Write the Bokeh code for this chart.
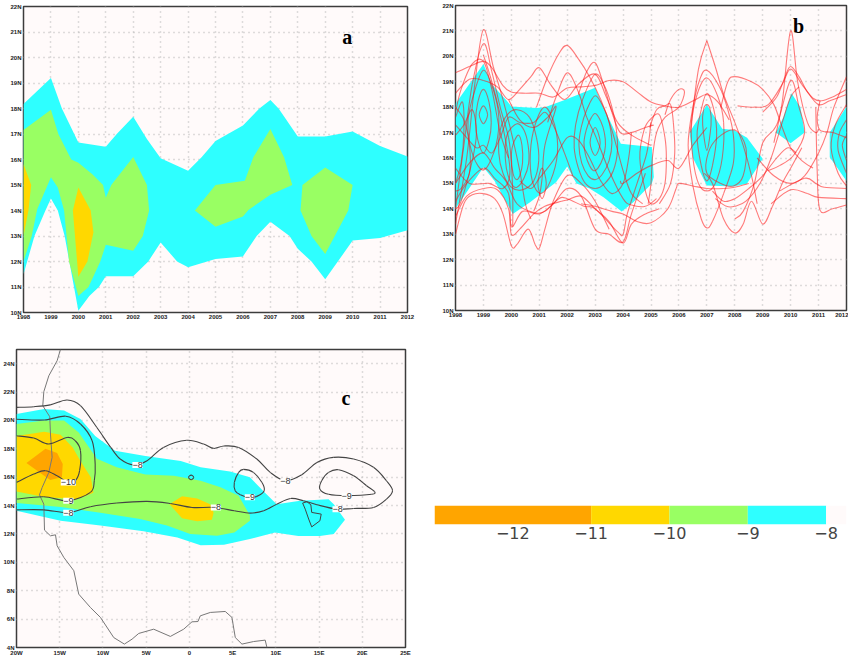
from bokeh.plotting import figure
from bokeh.models import Range1d, FixedTicker
from bokeh.layouts import row, column
from bokeh.embed import file_html
from bokeh.resources import INLINE
from bokeh.core.properties import value

CYAN = "#2EFFFF"
GREEN = "#99FF63"
YELLOW = "#FFD800"
ORANGE = "#FFA500"
SNOW = "#FFFAFA"

years = list(range(1998, 2013))
lat_ab = list(range(10, 23))
lon_c = [-20, -15, -10, -5, 0, 5, 10, 15, 20, 25]
lon_labels = ["20W", "15W", "10W", "5W", "0", "5E", "10E", "15E", "20E", "25E"]
lat_c = [4, 6, 8, 10, 12, 14, 16, 18, 20, 22, 24]

# panel a: shaded areas
a_cyan = [(1998,18.18),(1999,19.2),(1999.4,18),(2000,16.67),(2001,16.5),(2001.4,17),(2002,17.68),(2002.5,16.8),
          (2003,16.05),(2004,15.56),(2004.5,16.1),(2005,16.73),(2006,17.33),(2006.6,18),(2007,18.33),(2007.3,18),
          (2008,16.9),(2009,16.9),(2010,17.1),(2011,16.53),(2012,16.12),(2012,13.23),(2011,12.92),(2010,12.82),
          (2009,11.3),(2008.5,12),(2008,12.5),(2007.7,13),(2007,13.56),(2006.5,13),(2006,12.2),(2005,12.1),
          (2004,11.77),(2003.6,12),(2003,12.75),(2002.55,12),(2002,11.42),(2001,11.42),(2000.75,11),(2000.4,10.65),
          (2000,10.07),(1999.5,13),(1999.25,14),(1999,14.47),(1998.8,14),(1998.4,13),(1998,11.5)]
a_green1 = [(1998,17.16),(1999,17.95),(1999.27,17),(1999.74,16),(2000,15.87),(2000.5,15.43),(2000.9,15),(2001,14.5),
            (2001.2,15),(2002,16.1),(2002.5,15),(2002.58,14),(2002.35,13),(2002,12.42),(2001,12.66),(2000.8,12),
            (2000.37,11),(2000,10.65),(1999.66,12),(1999.48,14),(1999.25,14.9),(1999,15.3),(1998.5,14.05),
            (1998.3,13),(1998,12)]
a_green2 = [(2004.25,14),(2005,15),(2006.07,15.17),(2006.38,16.09),(2007,17.2),(2007.5,16.09),(2007.8,15),(2007,14.62),
            (2006.2,14.02),(2006,13.76),(2005,13.36)]
a_green3 = [(2008.17,15),(2009,15.69),(2010,15),(2009.84,14),(2009,12.29),(2008.5,13),(2008.1,14)]
a_yellow1 = [(1998,15.82),(1998.28,15),(1998.18,14),(1998,13)]
a_yellow2 = [(2000,14.9),(2000.45,14),(2000.55,13.15),(2000.33,12),(2000,11.4),(1999.8,14)]

# panel b: shaded areas
b_cyan1 = [(1998,18.13),(1999,19.7),(1999.3,18.9),(1999.83,18.26),(2000,18.03),(2000.9,17.97),(2001.2,18),(2001.86,18.26),
           (2002.4,18.5),(2003,18.76),(2003.3,18),(2003.92,16.56),(2005.03,16.43),(2005.1,15.25),(2005.03,15),
           (2004.37,14.26),(2003.95,13.9),(2003.3,14.46),(2002.8,14.8),(2002.33,15),(2002,15.67),(2001.6,15.05),
           (2000.67,14.26),(2000.05,13.8),(1999.4,15.1),(1999,15.64),(1998,14)]
b_cyan2 = [(2006.38,17),(2007,18.1),(2007.55,17.15),(2007.96,17.1),(2008.44,16.8),(2009,15.97),(2008.44,15),
           (2007.96,14.88),(2007,14.92),(2006.5,16)]
b_cyan3 = [(2009.47,17),(2009.74,17.6),(2010.03,18.55),(2010.35,18),(2010.5,17),(2010,16.58)]
b_cyan4 = [(2012,18.03),(2011.73,17.55),(2011.4,17),(2011.4,16.03),(2012,15.1)]

# panel b: red contours, traced by eye
tracks = [
    [(1998,19.35),(1998.5,19.6),(1999,19.8),(1999.3,19.55),(1999.7,18.85),(2000,18.6),(2000.5,18.55),(2001,18.55),(2001.5,18.4),(2002,18.75),(2002.5,18.8),(2003,18.85),(2003.5,19.05),(2004,19),(2004.5,18.6),(2005,18.2),(2005.5,18.05),(2006,18),(2006.6,18.3),(2007,18.5),(2007.4,18.2),(2007.8,17.5)],
    [(1998,18.55),(1998.5,19.1),(1999,19.05),(1999.5,18.8),(1999.9,18.3),(2000.3,18.7),(2000.7,19.2),(2001,19.55),(2001.4,18.9),(2001.9,18.3),(2002.4,18.9),(2003,19.3),(2003.4,18.4),(2003.8,17.4),(2004.3,16.9),(2005,16.5)],
    [(2000.9,18),(2001.3,19.2),(2001.7,20.1),(2002,20.43),(2002.4,19.9),(2002.8,19.2),(2003.2,18.3),(2003.6,17.1),(2004,15.5),(2004.3,14.6),(2004.7,14.2)],
    [(2002.4,18.5),(2002.7,19.4),(2003,19.75),(2003.3,18.9),(2003.6,17.8),(2003.9,17),(2004.3,17),(2004.8,17.2),(2005.1,17.3)],
    [(2001.3,17.4),(2001.6,18.4),(2002,19.35),(2002.4,18.6),(2002.7,17.6),(2003,16.9),(2003.5,15.5),(2004,14.4),(2004.3,14.15),(2004.8,14.1),(2005.2,14.4)],
    [(1998,14),(1998.3,16.5),(1998.6,18.9),(1999,20.5),(1999.3,19.4),(1999.6,18),(1999.9,16.8),(2000,15.8),(2000.05,14.5),(2000.05,13.3)],
    [(1998,13.4),(1998.4,16),(1998.7,19),(1999,21.05),(1999.35,19.6),(1999.7,18.3),(2000,17),(2000.3,15.5),(2000.5,14.2),(2000.7,13.6)],
    [(1998,13),(1998.3,14.2),(1998.6,14.55),(1999,14.6),(1999.4,14.4),(1999.7,13.8),(2000,12.55),(2000.2,12.6),(2000.6,13.2),(2000.85,12.6),(2001,12.45),(2001.2,13.2),(2001.5,14.3),(2002,15.3),(2002.5,15),(2003,14.3),(2003.5,13.2)],
    [(1998,13.7),(1998.4,14.5),(1999,14.8),(1999.5,14.75),(1999.9,14),(2000,13),(2000.3,13.2),(2000.8,13.8),(2001.2,14.1),(2001.8,14.3),(2002,14.35),(2002.5,14.5),(2003,14),(2003.5,13.5),(2004,12.65),(2004.3,13.4),(2004.8,13.8),(2005.3,14)],
    [(1998,14.3),(1998.4,15),(1999,15.6),(1999.4,15.2),(1999.9,14.6),(2000,13.3),(2000.4,13.9),(2001,13.8),(2001.5,14.2),(2002,14.8),(2002.5,14.5),(2003,13.2),(2003.5,13),(2004,12.7),(2004.3,13.8),(2004.8,15.4)],
    [(1998,15),(1998.5,15.8),(1999,16.2),(1999.4,15.6),(1999.8,15.1),(2000.2,14.2),(2000.8,13.85),(2001.2,13.9),(2001.7,14.4),(2002,14.4),(2002.6,14.1),(2003,14),(2003.8,13.1),(2004,13),(2004.15,13.8),(2004.5,15),(2004.85,16.2),(2005,17.4)],
    [(2002.5,14.2),(2003,14.1),(2003.6,13.9),(2004,13.8),(2004.5,13.5),(2005,13.45),(2005.6,14),(2005.9,14.8),(2006,15),(2006.5,14.9),(2007,14.8),(2007.6,14.8),(2008,14.85),(2008.5,15)],
    [(1998,17.3),(1998.4,16.8),(1998.75,16.4),(1999,16.5),(1999.3,16.2),(1999.6,16.8),(1999.9,17.6),(2000.3,17.4),(2000.8,17.4),(2001.2,17.8),(2001.5,17.3),(2001.9,16.2),(2002.2,15.3)],
    [(1999.9,18.3),(2000.3,17.5),(2000.8,17.2),(2001.3,17.6),(2001.6,18),(2001.2,16.5),(2001.1,15.2),(2001,14.5),(2000.8,13.9)],
    [(2000.3,15.1),(2000.7,14.8),(2001,15.2),(2001.5,15.9),(2002,16.8),(2002.4,16.7),(2002.8,16),(2003.2,15.1),(2003.6,14.6),(2004,15),(2004.2,16),(2004.3,17)],
    [(1999,18.7),(1999.2,18.2),(1999.28,17.4),(1999.2,16.7),(1999,16.2),(1998.8,16.7),(1998.72,17.4),(1998.8,18.2),(1999,18.7)],
    [(1999,19.45),(1999.35,18.7),(1999.55,17.6),(1999.45,16.5),(1999.1,15.6),(1998.8,15.7),(1998.5,16.6),(1998.45,17.5),(1998.65,18.5),(1999,19.45)],
    [(1999,18.05),(1999.15,17.7),(1999,17.35),(1998.85,17.7),(1999,18.05)],
    [(1999,20.05),(1999.3,19),(1999.7,17.2),(1999.95,15.5),(1999.7,14.8),(1999.2,15),(1998.5,15),(1998,15.6)],
    [(1998,18),(1998.3,17.5),(1998.5,16.5),(1998.5,15.4),(1998.2,14.8),(1998,14.7)],
    [(1998,17.8),(1998.2,18.7),(1998.6,19.7),(1999,19.8),(1999.3,18.7),(1999.6,17),(1999.9,16)],
    [(1998,17.6),(1998.25,18.2),(1998.3,17),(1998.2,15.8),(1998,15)],
    [(1998,16.9),(1998.3,17.3),(1998.6,17.9),(1998.75,17),(1998.6,15.9),(1998.2,14.3),(1998,14)],
    [(2000.2,17.35),(2000.45,17.1),(2000.6,16.5),(2000.62,15.8),(2000.45,15.2),(2000.2,14.85),(2000,15),(1999.82,15.6),(1999.78,16.4),(1999.88,17),(2000.2,17.35)],
    [(2000.25,16.9),(2000.38,16.5),(2000.4,15.8),(2000.3,15.3),(2000.18,15.15),(2000.06,15.4),(2000,16),(2000.05,16.5),(2000.25,16.9)],
    [(2000.2,17.9),(2000.65,17.6),(2000.9,16.8),(2000.98,15.9),(2000.8,15.1),(2000.4,14.75),(2000,14.85),(1999.7,15.4),(1999.55,16.2),(1999.6,17.1),(1999.85,17.7),(2000.2,17.9)],
    [(2001.2,18),(2001.55,17.3),(2001.65,16.2),(2001.4,15.1),(2001.05,14.6),(2000.75,15.1),(2000.68,16.2),(2000.85,17.3),(2001.2,18)],
    [(2001.1,15.6),(2001.25,15),(2001.1,14.4),(2000.95,15),(2001.1,15.6)],
    [(2003,17.2),(2003.12,16.95),(2003.18,16.6),(2003.12,16.3),(2003,16.1),(2002.88,16.3),(2002.82,16.6),(2002.88,16.95),(2003,17.2)],
    [(2003,17.75),(2003.2,17.45),(2003.33,17),(2003.37,16.5),(2003.28,16),(2003.1,15.6),(2002.95,15.5),(2002.8,15.7),(2002.66,16.1),(2002.6,16.6),(2002.68,17.1),(2002.82,17.5),(2003,17.75)],
    [(2003,18.45),(2003.3,18),(2003.5,17.4),(2003.6,16.6),(2003.5,15.9),(2003.25,15.35),(2003,15.15),(2002.75,15.3),(2002.52,15.8),(2002.42,16.5),(2002.5,17.2),(2002.7,17.9),(2003,18.45)],
    [(2003,19.3),(2003.35,18.8),(2003.6,18),(2003.75,17.2),(2003.8,16.3),(2003.65,15.5),(2003.35,15),(2003,14.8),(2002.65,15),(2002.4,15.6),(2002.25,16.4),(2002.3,17.3),(2002.55,18.3),(2003,19.3)],
    [(2005,17.55),(2005.3,17.7),(2005.5,16.8),(2005.55,16),(2005.5,15),(2005.3,14.4),(2005,14.2),(2004.8,14.7),(2004.6,16),(2004.75,17.1),(2005,17.55)],
    [(2004.9,14.2),(2005,15),(2005.05,16),(2005.2,17),(2005.5,17.6),(2006,18),(2006.2,18.6),(2006,18.7),(2005.7,18.3),(2005.5,17.7)],
    [(2004.95,17.2),(2005.2,17.9),(2005.5,18.05),(2005.7,18.1),(2005.8,17.4),(2005.85,16.2),(2005.7,15),(2005.3,14.2)],
    [(2003.9,15.1),(2004,15),(2004.5,15.4),(2005,15.7),(2005.6,15.9),(2006,15.6),(2006.5,16.5),(2007,17.2)],
    [(2007,20.62),(2007.3,19.6),(2007.6,18.5),(2008,17.4),(2008.3,16.5),(2008.6,15.3),(2008.8,14.2)],
    [(2006.4,17),(2006.7,19.5),(2007,20.62)],
    [(2007,19.45),(2007.45,18.8),(2007.75,17.9),(2007.95,16.9),(2007.95,15.8),(2007.6,14.6),(2007.2,13.5),(2007,13.25),(2006.8,13.6),(2006.5,14.9),(2006.33,16.5),(2006.5,18),(2006.75,19.1),(2007,19.45)],
    [(2007,19.15),(2007.4,18.4),(2007.6,17.4),(2007.55,16),(2007.3,15),(2007,14.7),(2006.7,15),(2006.5,16),(2006.45,17.3),(2006.65,18.5),(2007,19.15)],
    [(2007,18.55),(2007.25,17.9),(2007.35,16.9),(2007.2,15.7),(2007,15.1),(2006.8,15.7),(2006.65,16.9),(2006.8,17.9),(2007,18.55)],
    [(2007,18.1),(2007.12,17.9),(2007.15,17.3),(2007,16.3),(2006.85,17.3),(2006.88,17.9),(2007,18.1)],
    [(2008,17.1),(2008.4,16.4),(2008.3,15.3),(2007.95,14.9),(2007.5,15),(2007,15.4),(2007.05,16.2),(2007.4,16.8),(2008,17.1)],
    [(2006.9,15.4),(2007.2,15),(2007.6,13.6),(2008,13.05),(2008.3,13.4),(2008.6,14.3),(2009,13.4),(2009.35,14.1),(2009.7,15),(2010,15.6),(2010.4,16.4)],
    [(2007.2,14.7),(2007.6,14.3),(2008,14.4),(2008.5,14.8),(2009,15.3),(2009.5,16),(2009.9,16.4),(2010.2,16.2)],
    [(2007.3,14.4),(2007.7,14.1),(2008,14.1),(2008.4,14.3),(2008.9,15),(2009.3,16),(2009.7,17.4),(2010,18.4),(2010.3,18.8)],
    [(2007.5,18),(2007.75,19),(2008,19.2),(2008.6,19),(2009,18.7),(2009.4,18.1),(2009.7,17.2),(2010,16.4),(2010.4,15.9),(2010.8,15.6)],
    [(2008,13.6),(2008.3,13.9),(2008.7,15),(2009,16.6),(2009.5,17.3),(2010,19.05),(2010.3,18),(2010.5,17),(2010.1,16.1),(2009.6,15.7),(2009.2,15.5)],
    [(2009.4,16.6),(2009.7,18.2),(2010,21),(2010.25,19),(2010.6,17.4),(2010.9,17),(2011,17.15)],
    [(2009,17.8),(2009.5,18.4),(2009.8,19.2),(2010,19.6),(2010.3,19.2),(2010.6,18.6),(2011,18.1),(2011.4,18.25),(2012,18.5)],
    [(2008.1,18.05),(2008.7,18),(2009.2,18.1),(2009.7,18.9),(2010,19.5),(2010.4,18.9),(2010.8,18.35),(2011.1,18.25),(2011.5,18.4),(2012,18.7)],
    [(2008.8,16),(2009.4,15.3),(2010,15),(2010.5,15.3),(2011,16.2),(2011.3,17),(2011.55,18),(2012,19.2)],
    [(2009.3,14.2),(2010,14.75),(2010.6,14.6),(2011,14.45),(2012,14.4)],
    [(2009.6,14.7),(2010.5,15.2),(2010.9,15),(2011.2,14.85),(2012,14.8)],
    [(2010.9,18),(2010.95,15.5),(2011.05,13.95),(2011.5,14),(2012,14.15)],
    [(2011.05,18.25),(2010.95,17.6),(2011.05,17.1),(2011.5,17),(2012,16.8)],
    [(2012,18.1),(2011.6,17.3),(2011.45,16.4),(2011.7,15.4),(2012,14.9)],
    [(2012,17.5),(2011.75,17),(2011.7,16.3),(2012,15.4)],
    [(2012,16.9),(2011.85,16.5),(2012,15.9)],
]

# panel c: shaded areas
c_cyan = [(-20,20.45),(-16.8,20.8),(-14.5,20.7),(-12.6,20.1),(-10.9,18.9),(-8.6,17.87),(-5.1,17.5),(-1,17.15),(1.3,16.7),
          (4.7,16.4),(7,16),(8.6,15),(10.1,14.1),(12.8,14.34),(16.1,14.45),(16.7,14.1),(18,13),(16.7,12),(15.1,11.85),
          (12.6,11.85),(9.9,12.1),(7,11.64),(4,11.24),(1.3,11.2),(-1.4,11.75),(-5.3,12.2),(-10.3,12.6),(-14.9,12.93),(-20,13.63)]
c_green = [(-20,19.75),(-16.8,20),(-14.5,20),(-12.8,19.15),(-10.7,17.3),(-8.4,16.7),(-5.1,16.2),(-1.8,16.1),(1.3,15.75),
           (3.6,15.3),(5.7,14.7),(7,13.3),(7,12.93),(5.2,12.1),(3.2,11.87),(0.1,12),(-2.6,12.6),(-5.7,13.05),(-10.3,13.5),
           (-14.9,13.9),(-20,14.18)]
c_yellow1 = [(-20,18.9),(-16.8,19.2),(-14.9,19),(-13.5,18.1),(-12.6,17.15),(-11.4,16),(-11.1,14.9),(-13,14.45),(-16.8,14.6),(-20,15)]
c_yellow2 = [(-2.3,14.1),(-0.85,14.65),(0.9,14.5),(2.4,14.1),(2.8,13.5),(2.6,13),(0.9,12.9),(-0.85,13.1)]
c_orange = [(-18.85,17),(-16.65,18),(-15.3,17.7),(-14.65,16.93),(-14.75,16),(-16.1,15.8),(-17,16.2)]

# panel c: black contours
c_lines = [
    [(-20,20.92),(-18,20.97),(-16.1,21.1),(-14.15,21.44),(-12.6,21.04),(-10.7,19.5),(-9.1,18.1),(-8,17.28),(-6.45,16.86),(-4.9,17.16),(-3,18.1),(-0.3,18.6),(1.65,18.34),(2.8,18.03),(4,18.2),(5.7,18.1),(7.8,17.28),(9.35,16.34),(11.1,15.75),(13,16.17),(14.75,17.04),(16.65,17.4),(19,17.28),(21.3,16.7),(22.8,15.75),(23.5,15.05),(22.8,14.46),(21.3,13.87),(19,13.8),(17.05,13.75),(14.75,14.06),(13.2,14.34),(11.7,14.5),(10.1,14.1),(8.6,13.64),(7,13.47),(5.2,13.64),(2.8,13.87),(0.3,13.87),(-2.2,14.15),(-4.9,14.3),(-8.4,14.18),(-11.45,13.92),(-14,13.5),(-16.85,13.7),(-20,13.7)],
    [(-20,20.08),(-16.8,20.03),(-14.3,20.3),(-12.6,19.75),(-11.25,18.57),(-10.9,16.93),(-11,15.75),(-11.45,14.93),(-14,14.34),(-16.85,14.62),(-20,14.46)],
    [(-20,18.92),(-18,18.76),(-16.25,18.34),(-14.15,18.8),(-13.2,18.57),(-12.6,17.87),(-12.7,16.46),(-13.2,15.75),(-14,15.63),(-15.3,16.1),(-16.65,16.46),(-18,16.22),(-20,15.63)],
    [(-0.1,16),(0.2,16.15),(0.5,16),(0.2,15.82),(-0.1,16)],
    [(5.3,15.05),(5.2,15.63),(5.7,16.34),(6.27,16.55),(7.4,16.34),(8.4,15.63),(8.65,15.05),(7.8,14.65),(6.85,14.58),(5.9,14.76),(5.3,15.05)],
    [(15.1,15.16),(15.3,15.75),(16.1,16.34),(17.25,16.53),(19,16.1),(20.5,15.4),(21.4,15),(21.1,14.8),(18.2,14.7),(16.1,14.8),(15.1,15.16)],
]
chad = [(13.1,14.18),(13.6,14.27),(14.05,14.06),(14.15,13.52),(15.25,13.4),(15.1,12.93),(14.15,12.5),(13.8,13.05),(13.4,13.75),(13.1,14.18)]
coast = [(-14.92,24.99),(-15.3,24.21),(-16.26,23.15),(-16.84,22.03),(-16.96,21.04),(-16.15,20.26),(-16.07,19.04),(-15.88,17.4),
         (-16.26,16.34),(-17.03,15.28),(-17.34,14.76),(-16.84,14.1),(-16.76,12.27),(-16.07,11.87),(-15.49,11.94),(-15.3,11.17),
         (-14.53,10.35),(-13.37,9.41),(-12.8,7.76),(-11.45,6.82),(-10.29,6.12),(-8.75,4.7),(-7.52,4.24),(-6.63,4.59),(-5.86,4.99),
         (-4.13,5.29),(-2.2,4.78),(-0.66,5.29),(0.3,5.81),(0.99,5.83),(1.26,6.23),(2.42,6.47),(4.15,6.54),(4.92,6.12),(5.31,4.7),
         (6.08,4.24),(7.43,4.42),(8.77,4.52),(8.97,4)]

c_label_x = [-6, 11.1, -14, -14, -14, 7, 3.07, 18.2, 17.15]
c_label_y = [16.86, 15.7, 15.63, 14.34, 13.5, 14.58, 13.87, 14.7, 13.75]
c_label_text = ["−8", "−8", "−10", "−9", "−8", "−9", "−8", "−9", "−8"]

# colour key
key_edges = [-13, -11, -10, -9, -8, -7.74]
key_colors = [ORANGE, YELLOW, GREEN, CYAN, SNOW]
key_ticks = [-12, -11, -10, -9, -8]
key_labels = ["−12", "−11", "−10", "−9", "−8"]


def unzip(points):
    return [q[0] for q in points], [q[1] for q in points]


def fill(p, points, color):
    x, y = unzip(points)
    p.patch(x, y, fill_color=color, line_color=None)


def curve(p, points, **style):
    # a smooth curve through the read points, drawn with the bezier glyph
    closed = points[0] == points[-1]
    n = len(points)

    def at(i):
        if closed:
            return points[i % (n - 1)]
        return points[min(max(i, 0), n - 1)]

    x0, y0, x1, y1, cx0, cy0, cx1, cy1 = [], [], [], [], [], [], [], []
    for i in range(n - 1):
        a0, a1, a2, a3 = at(i - 1), at(i), at(i + 1), at(i + 2)
        x0.append(a1[0])
        y0.append(a1[1])
        x1.append(a2[0])
        y1.append(a2[1])
        cx0.append(a1[0] + (a2[0] - a0[0]) / 6)
        cy0.append(a1[1] + (a2[1] - a0[1]) / 6)
        cx1.append(a2[0] - (a3[0] - a1[0]) / 6)
        cy1.append(a2[1] - (a3[1] - a1[1]) / 6)
    p.bezier(x0, y0, x1, y1, cx0, cy0, cx1, cy1, **style)


def set_panel_options(p, xticks, xlabels, yticks, ylabels):
    p.background_fill_color = SNOW
    p.border_fill_color = "white"
    p.outline_line_color = "#3c3c3c"
    p.outline_line_width = 1.5
    for ax, ticks, labels in ((p.xaxis[0], xticks, xlabels), (p.yaxis[0], yticks, ylabels)):
        ax.ticker = FixedTicker(ticks=ticks)
        ax.major_label_overrides = dict(zip(ticks, labels))
        ax.axis_line_color = None
        ax.major_tick_in = 0
        ax.major_tick_out = 0
        ax.major_tick_line_color = None
        ax.minor_tick_line_color = None
        ax.major_label_standoff = 2
        ax.major_label_text_font = "Liberation Sans"
        ax.major_label_text_font_size = "6px"
        ax.major_label_text_font_style = "bold"
        ax.major_label_text_color = "#222222"
    p.xgrid[0].ticker = p.xaxis[0].ticker
    p.ygrid[0].ticker = p.yaxis[0].ticker
    p.grid.grid_line_color = "#bcbcbc"
    p.grid.grid_line_dash = "1 4"
    p.grid.grid_line_width = 1.5


def panel_letter(p, x, y, letter):
    p.text([x], [y], [letter], text_font=value("Liberation Serif"), text_font_style="bold",
           text_font_size="20px", text_color="black", text_align="center", text_baseline="middle")


lat_labels_ab = ["%dN" % v for v in lat_ab]
year_labels = [str(v) for v in years]

a = figure(width=432, height=330, x_range=Range1d(1998, 2012), y_range=Range1d(10, 22),
           output_backend="svg", toolbar_location=None, min_border_left=23, min_border_right=25,
           min_border_top=6, min_border_bottom=18, frame_align=False)
set_panel_options(a, years, year_labels, lat_ab, lat_labels_ab)
fill(a, a_cyan, CYAN)
fill(a, a_green1, GREEN)
fill(a, a_green2, GREEN)
fill(a, a_green3, GREEN)
fill(a, a_yellow1, YELLOW)
fill(a, a_yellow2, YELLOW)
panel_letter(a, 2009.8, 20.82, "a")

b = figure(width=416, height=330, x_range=Range1d(1998, 2012), y_range=Range1d(10, 22),
           output_backend="svg", toolbar_location=None, min_border_left=23, min_border_right=2,
           min_border_top=5, min_border_bottom=20, frame_align=False)
set_panel_options(b, years, year_labels, lat_ab, lat_labels_ab)
fill(b, b_cyan1, CYAN)
fill(b, b_cyan2, CYAN)
fill(b, b_cyan3, CYAN)
fill(b, b_cyan4, CYAN)
for t in tracks:
    curve(b, t, line_color="#FF1010", line_alpha=0.55, line_width=1.1)
panel_letter(b, 2010.28, 21.18, "b")

c = figure(width=426, height=329, x_range=Range1d(-20, 25), y_range=Range1d(4, 25),
           output_backend="svg", toolbar_location=None, min_border_left=16, min_border_right=21,
           min_border_top=19, min_border_bottom=12, frame_align=False)
set_panel_options(c, lon_c, lon_labels, lat_c, ["%dN" % v for v in lat_c])
fill(c, c_cyan, CYAN)
fill(c, c_green, GREEN)
fill(c, c_yellow1, YELLOW)
fill(c, c_yellow2, YELLOW)
fill(c, c_orange, ORANGE)
x, y = unzip(coast)
c.line(x, y, line_color="#777777", line_width=1)
for t in c_lines:
    curve(c, t, line_color="#444444", line_width=1.1)
x, y = unzip(chad)
c.line(x, y, line_color="#444444", line_width=1)
c.text(c_label_x, c_label_y, c_label_text, text_font=value("Liberation Sans"), text_font_size="9px",
       text_color="#333333", text_align="center", text_baseline="middle",
       background_fill_color="white", background_fill_alpha=1.0)
panel_letter(c, 18.1, 21.55, "c")

key = figure(width=422, height=329, x_range=Range1d(-13, -7.74), y_range=Range1d(0, 1),
             output_backend="svg", toolbar_location=None, min_border_left=8, min_border_right=2,
             min_border_top=175, min_border_bottom=135, frame_align=False)
key.quad(left=key_edges[:-1], right=key_edges[1:], bottom=[0] * 5, top=[1] * 5, fill_color=key_colors, line_color=None)
key.outline_line_color = None
key.grid.visible = False
key.yaxis.visible = False
key.xaxis.ticker = FixedTicker(ticks=key_ticks)
key.xaxis.major_label_overrides = dict(zip(key_ticks, key_labels))
key.xaxis.axis_line_color = None
key.xaxis.major_tick_line_color = None
key.xaxis.minor_tick_line_color = None
key.xaxis.major_tick_out = 0
key.xaxis.major_tick_in = 0
key.xaxis.major_label_standoff = 2
key.xaxis.major_label_text_font = "DejaVu Sans"
key.xaxis.major_label_text_font_size = "16px"
key.xaxis.major_label_text_color = "#444444"

page = column(row(a, b, spacing=0), row(c, key, spacing=0), spacing=0)
open("out.html", "w").write(file_html(page, INLINE))
